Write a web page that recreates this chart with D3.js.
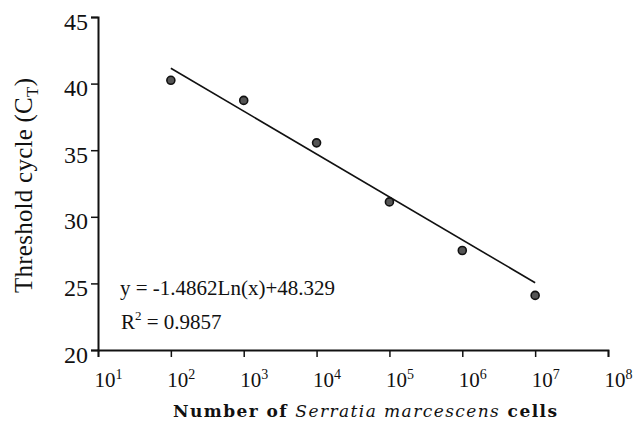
<!DOCTYPE html>
<html>
<head>
<meta charset="utf-8">
<script src="https://cdn.jsdelivr.net/npm/d3@7/dist/d3.min.js"></script>
<style>
  body { margin: 0; background: #fff; }
  svg { display: block; }
  text { font-family: "Liberation Serif", "Times New Roman", serif; fill: #111; }
  text.xtitle { font-family: "DejaVu Serif", serif; }
</style>
</head>
<body>
<div id="chart"></div>
<script>
// data
const cellCounts = [1e2, 1e3, 1e4, 1e5, 1e6, 1e7];
const ctValues = [40.25, 38.74, 35.55, 31.12, 27.47, 24.1];

// fitted trend line, as drawn
const trendX = [1e2, 1e7];
const trendY = [41.15, 25.05];

const xTickExp = [1, 2, 3, 4, 5, 6, 7, 8];
const yTicks = [20, 25, 30, 35, 40, 45];

const equationText = 'y = -1.4862Ln(x)+48.329';
const r2Text = '0.9857';

const width = 636;
const height = 427;

const x = d3.scaleLog().domain([10, 1e8]).range([98, 608]);
const y = d3.scaleLinear().domain([20, 45]).range([350, 17]);

const svg = d3.select('#chart')
  .append('svg')
  .attr('width', width)
  .attr('height', height);

// y axis
const yAxis = svg.append('g')
  .attr('transform', `translate(${x.range()[0]},0)`)
  .call(d3.axisLeft(y).tickValues(yTicks).tickSize(7).tickPadding(3).tickFormat(d3.format('d')));

yAxis.select('.domain').attr('stroke', '#111').attr('stroke-width', 2);
yAxis.selectAll('.tick line').attr('stroke', '#111').attr('stroke-width', 1.5);
yAxis.selectAll('.tick text')
  .attr('font-size', 24)
  .attr('dy', '0.5em')
  .attr('fill', '#111');

// x axis
const xAxis = svg.append('g')
  .attr('transform', `translate(0,${y.range()[0]})`)
  .call(d3.axisBottom(x).tickValues(xTickExp.map(e => Math.pow(10, e))).tickSize(7).tickFormat(''));

xAxis.select('.domain').attr('stroke', '#111').attr('stroke-width', 1.8);
xAxis.selectAll('.tick line').attr('stroke', '#111').attr('stroke-width', 1.5);

// tick labels with superscripts
xAxis.selectAll('.tick')
  .data(xTickExp)
  .append('text')
  .attr('x', -4)
  .attr('y', 37)
  .attr('text-anchor', 'start')
  .attr('font-size', 21)
  .attr('fill', '#111')
  .each(function(e) {
    const t = d3.select(this);
    t.append('tspan').text('10');
    t.append('tspan').attr('font-size', 14).attr('dy', -8).text(e);
  });

// axis titles
svg.append('text')
  .attr('class', 'xtitle')
  .attr('x', 173)
  .attr('y', 417)
  .attr('font-size', 17)
  .attr('font-weight', 'bold')
  .attr('textLength', 384)
  .attr('lengthAdjust', 'spacing')
  .call(t => {
    t.append('tspan').text('Number of ');
    t.append('tspan').attr('font-style', 'italic').attr('font-weight', 'normal').text('Serratia marcescens');
    t.append('tspan').text(' cells');
  });

svg.append('text')
  .attr('transform', 'translate(32,293) rotate(-90)')
  .attr('font-size', 25)
  .attr('textLength', 215)
  .attr('lengthAdjust', 'spacing')
  .call(t => {
    t.append('tspan').text('Threshold cycle (C');
    t.append('tspan').attr('font-size', 17).attr('dy', 6).text('T');
    t.append('tspan').attr('dy', -6).text(')');
  });

// trend line
const line = d3.line()
  .x(d => x(d[0]))
  .y(d => y(d[1]));

svg.append('path')
  .datum(trendX.map((v, i) => [v, trendY[i]]))
  .attr('d', line)
  .attr('fill', 'none')
  .attr('stroke', '#111')
  .attr('stroke-width', 1.6);

// data points
svg.append('g')
  .selectAll('circle')
  .data(cellCounts.map((v, i) => [v, ctValues[i]]))
  .join('circle')
  .attr('cx', d => x(d[0]))
  .attr('cy', d => y(d[1]))
  .attr('r', 4)
  .attr('fill', '#555')
  .attr('stroke', '#111')
  .attr('stroke-width', 1.6);

// equation labels
svg.append('text')
  .attr('x', 120)
  .attr('y', 295)
  .attr('font-size', 21)
  .text(equationText);

const r2 = svg.append('text')
  .attr('x', 121)
  .attr('y', 329)
  .attr('font-size', 21);
r2.append('tspan').text('R');
r2.append('tspan').attr('font-size', 13).attr('dy', -9).text('2');
r2.append('tspan').attr('dy', 9).text(' = ' + r2Text);
</script>
</body>
</html>
